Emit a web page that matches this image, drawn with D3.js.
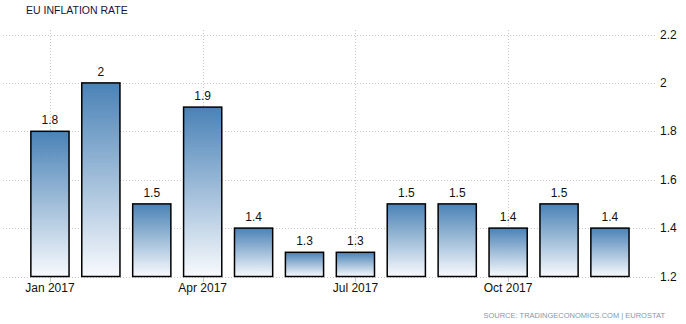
<!DOCTYPE html>
<html><head><meta charset="utf-8">
<script src="https://cdn.jsdelivr.net/npm/d3@7"></script>
<style>body{margin:0;background:#fff;}svg{display:block;font-family:"Liberation Sans",Arial,sans-serif;}</style>
</head><body><svg id="c" width="686" height="324"></svg>
<script>
const months = ["Jan 2017","Feb 2017","Mar 2017","Apr 2017","May 2017","Jun 2017","Jul 2017","Aug 2017","Sep 2017","Oct 2017","Nov 2017","Dec 2017"];
const values = [1.8,2.0,1.5,1.9,1.4,1.3,1.3,1.5,1.5,1.4,1.5,1.4];
const valueLabels = ["1.8","2","1.5","1.9","1.4","1.3","1.3","1.5","1.5","1.4","1.5","1.4"];
const yTicks = [1.2,1.4,1.6,1.8,2.0,2.2];
const xTickMonths = ["Jan 2017","Apr 2017","Jul 2017","Oct 2017"];

const svg = d3.select("#c");
const x = d3.scaleBand().domain(months).range([24.5,635.4]).paddingInner(0.25).paddingOuter(0.125);
const y = d3.scaleLinear().domain([1.2,2.2]).range([276.5,34.5]);

const defs = svg.append("defs");
const g = defs.append("linearGradient").attr("id","bg").attr("x1",0).attr("y1",0).attr("x2",0).attr("y2",1);
g.append("stop").attr("offset","0%").attr("stop-color","#4a82b6");
g.append("stop").attr("offset","100%").attr("stop-color","#f8fafd");

// horizontal grid
svg.append("g").selectAll("line").data(yTicks).join("line")
  .attr("x1",3).attr("x2",657).attr("y1",d=>Math.round(y(d))+0.5).attr("y2",d=>Math.round(y(d))+0.5)
  .attr("stroke","#c8c8c8").attr("stroke-dasharray","1,2");
// vertical grid
svg.append("g").selectAll("line").data(xTickMonths).join("line")
  .attr("x1",d=>Math.round(x(d)+x.bandwidth()/2)+0.5).attr("x2",d=>Math.round(x(d)+x.bandwidth()/2)+0.5)
  .attr("y1",30).attr("y2",277).attr("stroke","#c8c8c8").attr("stroke-dasharray","1,2");
// tick marks
svg.append("g").selectAll("line").data(xTickMonths).join("line")
  .attr("x1",d=>Math.round(x(d)+x.bandwidth()/2)+0.5).attr("x2",d=>Math.round(x(d)+x.bandwidth()/2)+0.5)
  .attr("y1",277).attr("y2",282).attr("stroke","#c8c8c8");

// y labels
svg.append("g").selectAll("text").data(yTicks).join("text")
  .attr("x",660).attr("y",d=>y(d)+4).attr("font-size",12).attr("fill","#111")
  .text(d=>d3.format("")(+d.toFixed(1)));

// bars
svg.append("g").selectAll("rect").data(values).join("rect")
  .attr("x",(d,i)=>x(months[i])).attr("width",x.bandwidth())
  .attr("y",d=>y(d)).attr("height",d=>y(1.2)-y(d))
  .attr("fill","url(#bg)").attr("stroke","#000").attr("stroke-width",1.5);

// value labels
svg.append("g").selectAll("text").data(values).join("text")
  .attr("x",(d,i)=>x(months[i])+x.bandwidth()/2).attr("y",d=>y(d)-7)
  .attr("text-anchor","middle").attr("font-size",12).attr("fill","#111")
  .text((d,i)=>valueLabels[i]);

// x labels
svg.append("g").selectAll("text").data(xTickMonths).join("text")
  .attr("x",d=>x(d)+x.bandwidth()/2).attr("y",292).attr("text-anchor","middle")
  .attr("font-size",12).attr("fill","#111").text(d=>d);

svg.append("text").attr("x",26).attr("y",14).attr("font-size",10.5).attr("fill","#14143a")
  .text("EU INFLATION RATE");
svg.append("text").attr("x",665).attr("y",318).attr("text-anchor","end").attr("font-size",7.5).attr("fill","#8a96a8")
  .text("SOURCE: TRADINGECONOMICS.COM | EUROSTAT");
</script></body></html>
